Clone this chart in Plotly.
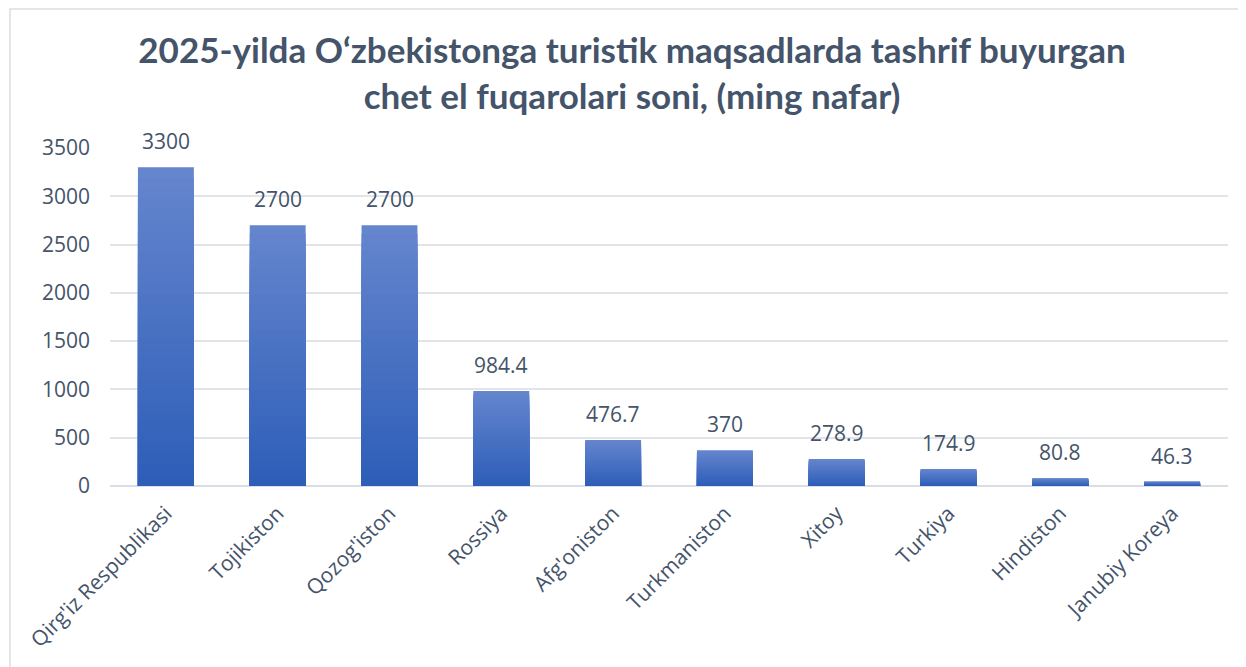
import plotly.graph_objects as go

categories = ["Qirg'iz Respublikasi", "Tojikiston", "Qozog'iston", "Rossiya", "Afg'oniston",
              "Turkmaniston", "Xitoy", "Turkiya", "Hindiston", "Janubiy Koreya"]
values = [3300, 2700, 2700, 984.4, 476.7, 370, 278.9, 174.9, 80.8, 46.3]
labels = ["3300", "2700", "2700", "984.4", "476.7", "370", "278.9", "174.9", "80.8", "46.3"]
y_ticks = [0, 500, 1000, 1500, 2000, 2500, 3000, 3500]

title_text = "2025-yilda O‘zbekistonga turistik maqsadlarda tashrif buyurgan<br>chet el fuqarolari soni, (ming nafar)"

TXT = "#44546a"
FONT = "Open Sans"
top_rgb = (101, 133, 205)
bot_rgb = (46, 94, 184)
N = 30

L, T, PW, PH = 102, 140, 1118, 338
W, H = 1246, 667

fig = go.Figure()
for k in range(N):
    t = k / (N - 1)
    c = tuple(round(top_rgb[i] + (bot_rgb[i] - top_rgb[i]) * t) for i in range(3))
    frac = (N - k) / N
    fig.add_trace(go.Bar(
        x=categories, y=[v * frac for v in values],
        marker=dict(color=f"rgb{c}", line=dict(width=0)),
        hoverinfo="skip", showlegend=False,
    ))

for cat, v, lab in zip(categories, values, labels):
    fig.add_annotation(x=cat, y=v, text=lab, showarrow=False, yanchor="bottom",
                       yshift=10, font=dict(family=FONT, size=21, color=TXT))

fig.add_shape(type="rect", xref="paper", yref="paper",
              x0=(2 - L) / PW, x1=(W + 20 - L) / PW,
              y0=(T + PH - H - 20) / PH, y1=(T + PH - 1) / PH,
              line=dict(color="#d9dde3", width=1.5), fillcolor="rgba(0,0,0,0)", layer="below")

fig.update_layout(
    width=W, height=H,
    barmode="overlay", bargap=0.5,
    plot_bgcolor="white", paper_bgcolor="white",
    margin=dict(l=L, r=W - L - PW, t=T, b=H - T - PH, autoexpand=False),
    title=dict(text=title_text, x=624 / W, xanchor="center", xref="container",
               y=1 - 55 / H, yanchor="top", yref="container",
               font=dict(family="Lato", size=35, color=TXT, weight="bold")),
    xaxis=dict(tickangle=-45, tickfont=dict(family=FONT, size=21, color=TXT),
               showgrid=False, showline=False, ticks="", ticklabelstandoff=10),
    yaxis=dict(range=[0, 3500], tickvals=y_ticks, showgrid=True, gridcolor="#e1e4e8", gridwidth=1.5,
               zeroline=True, zerolinecolor="#dadee4", zerolinewidth=1.5,
               tickfont=dict(family=FONT, size=21, color=TXT), ticks="", ticklabelstandoff=19),
)

fig.write_html("out.html")
